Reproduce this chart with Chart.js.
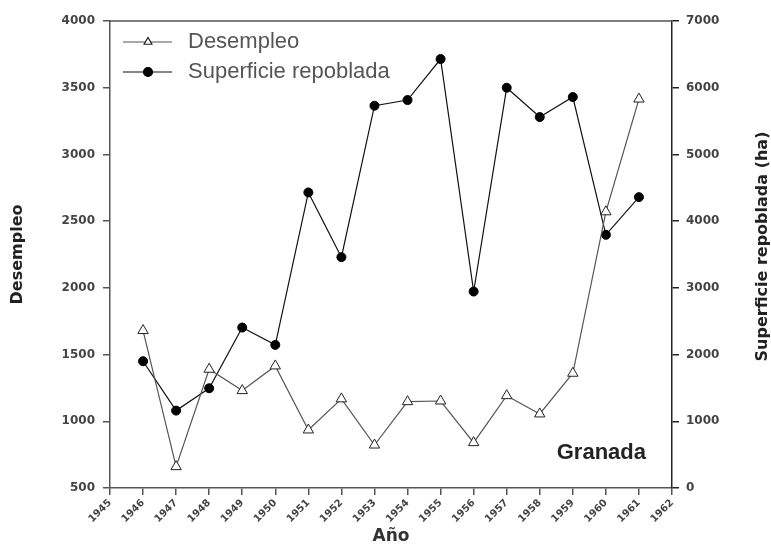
<!DOCTYPE html>
<html>
<head>
<meta charset="utf-8">
<script src="https://cdn.jsdelivr.net/npm/chart.js@4/dist/chart.umd.min.js"></script>
<style>
  html, body { margin: 0; padding: 0; background: #fff; }
  #wrap { width: 771px; height: 547px; position: relative; }
</style>
</head>
<body>
<div id="wrap"><canvas id="chart" width="771" height="547"></canvas></div>
<script>
// Data
const years = [1946, 1947, 1948, 1949, 1950, 1951, 1952, 1953, 1954, 1955, 1956, 1957, 1958, 1959, 1960, 1961];
const desempleo = [1680, 660, 1390, 1230, 1415, 935, 1168, 822, 1147, 1152, 840, 1192, 1055, 1360, 2570, 3415];
const superficie = [1900, 1160, 1495, 2405, 2145, 4430, 3460, 5730, 5815, 6430, 2945, 6000, 5560, 5860, 3795, 4360];

const AXIS = '#555555';
const TICK_FONT = { family: 'DejaVu Sans', size: 12, weight: 'bold' };
const TITLE_FONT = { family: 'DejaVu Sans', size: 16, weight: 'bold' };

const toPoints = (vals) => years.map((y, i) => ({ x: y, y: vals[i] }));
const plain = (v) => String(v);

// Top border of the box, the inner legend, right axis title and "Granada"
const decorPlugin = {
  id: 'decor',
  afterDraw(chart) {
    const { ctx, chartArea } = chart;
    ctx.save();
    ctx.strokeStyle = AXIS;
    ctx.lineWidth = 1.5;
    ctx.beginPath();
    ctx.moveTo(chartArea.left, chartArea.top);
    ctx.lineTo(chartArea.right, chartArea.top);
    ctx.stroke();

    // legend
    const x0 = chartArea.left + 13;
    chart.data.datasets.forEach((ds, i) => {
      const y = chartArea.top + 21 + i * 30;
      ctx.strokeStyle = ds.borderColor;
      ctx.lineWidth = 1.2;
      ctx.beginPath();
      ctx.moveTo(x0, y);
      ctx.lineTo(x0 + 49, y);
      ctx.stroke();
      ctx.fillStyle = ds.pointBackgroundColor;
      ctx.strokeStyle = ds.pointBorderColor;
      Chart.helpers.drawPoint(ctx, {
        pointStyle: ds.pointStyle,
        rotation: 0,
        radius: 4.5,
        borderWidth: 1
      }, x0 + 25, y);
      ctx.fillStyle = '#555';
      ctx.font = '22px "Liberation Sans", Arial, sans-serif';
      ctx.textAlign = 'left';
      ctx.textBaseline = 'middle';
      ctx.fillText(ds.label, x0 + 65, y);
    });

    ctx.fillStyle = '#222';
    ctx.font = 'bold 22px "Liberation Sans", Arial, sans-serif';
    ctx.textAlign = 'right';
    ctx.textBaseline = 'middle';
    ctx.fillText('Granada', chartArea.right - 26, chartArea.bottom - 35);

    // right axis title, reading bottom to top
    ctx.translate(763, (chartArea.top + chartArea.bottom) / 2 - 8);
    ctx.rotate(-Math.PI / 2);
    ctx.textAlign = 'center';
    ctx.font = 'bold 16px "DejaVu Sans"';
    ctx.fillText('Superficie repoblada (ha)', 0, 0);
    ctx.restore();
  }
};

new Chart(document.getElementById('chart'), {
  type: 'line',
  data: {
    datasets: [
      {
        label: 'Desempleo',
        data: toPoints(desempleo),
        yAxisID: 'y',
        borderColor: '#555555',
        borderWidth: 1.2,
        pointStyle: 'triangle',
        pointRadius: 6,
        pointBackgroundColor: '#ffffff',
        pointBorderColor: '#222222',
        pointBorderWidth: 1,
        tension: 0
      },
      {
        label: 'Superficie repoblada',
        data: toPoints(superficie),
        yAxisID: 'y1',
        borderColor: '#111111',
        borderWidth: 1.2,
        pointStyle: 'circle',
        pointRadius: 4.5,
        pointBackgroundColor: '#000000',
        pointBorderColor: '#000000',
        pointBorderWidth: 1,
        tension: 0
      }
    ]
  },
  options: {
    responsive: false,
    animation: false,
    layout: { padding: { top: 21, left: 0, right: 0, bottom: 0 } },
    plugins: {
      legend: { display: false },
      tooltip: { enabled: false }
    },
    scales: {
      x: {
        type: 'linear',
        min: 1945,
        max: 1962,
        afterFit: (s) => { s.height = 59; },
        ticks: {
          stepSize: 1,
          minRotation: 45,
          maxRotation: 45,
          padding: 2,
          color: '#444',
          font: { family: 'DejaVu Sans', size: 10, weight: 'bold' },
          callback: plain
        },
        grid: { drawOnChartArea: false, drawTicks: true, tickLength: 7, color: AXIS, lineWidth: 1.5 },
        border: { display: true, color: AXIS, width: 1.5 },
        title: {
          display: true,
          text: 'Año',
          color: '#333',
          font: { family: 'DejaVu Sans', size: 17, weight: 'bold' },
          padding: { top: 0, bottom: 0 }
        }
      },
      y: {
        position: 'left',
        min: 500,
        max: 4000,
        afterFit: (s) => { s.width = 110; },
        ticks: { stepSize: 500, padding: 8, color: '#444', font: TICK_FONT, callback: plain },
        grid: { drawOnChartArea: false, drawTicks: true, tickLength: 7, color: AXIS, lineWidth: 1.5 },
        border: { display: true, color: AXIS, width: 1.5 },
        title: {
          display: true,
          text: 'Desempleo',
          color: '#222',
          font: TITLE_FONT,
          padding: { top: 8, bottom: 0 }
        }
      },
      y1: {
        position: 'right',
        min: 0,
        max: 7000,
        afterFit: (s) => { s.width = 99; },
        ticks: { stepSize: 1000, padding: 7, color: '#444', font: TICK_FONT, callback: plain },
        grid: { drawOnChartArea: false, drawTicks: true, tickLength: 7, color: '#222', lineWidth: 1.5 },
        border: { display: true, color: '#222', width: 1.5 }
      }
    }
  },
  plugins: [decorPlugin]
});
</script>
</body>
</html>
